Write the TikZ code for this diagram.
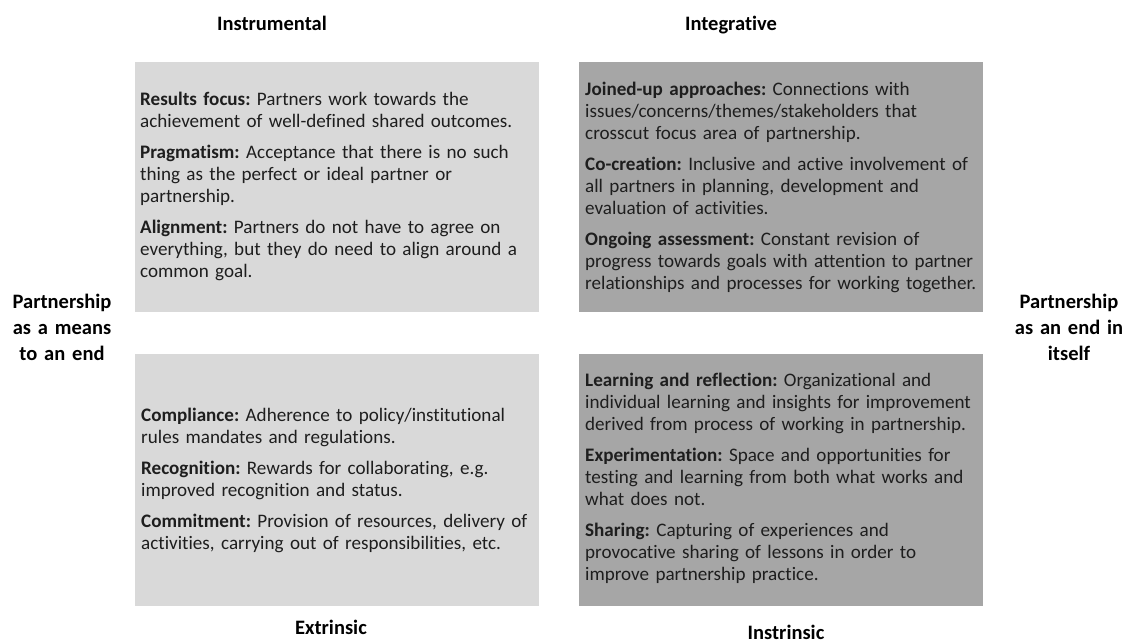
\documentclass[tikz,border=0pt]{standalone}
\usepackage{fontspec}
\setmainfont[Ligatures=NoCommon]{Carlito}
\usepackage{xcolor}
\definecolor{boxlight}{HTML}{D9D9D9}
\definecolor{boxdark}{HTML}{A6A6A6}
\definecolor{bodytext}{HTML}{1E1E1E}
\newcommand{\term}[1]{\textbf{#1:}}
\frenchspacing

\begin{document}
\begin{tikzpicture}[x=1pt,y=-1pt,
    quad/.style={rectangle,inner sep=0pt,anchor=north west,minimum width=404pt},
    quad text/.style={anchor=base west,inner sep=0pt,text width=400pt,align=left,text=bodytext,
                      font=\fontsize{19.1}{22}\selectfont},
    axis label/.style={anchor=base,inner sep=0pt,font=\fontsize{20.5}{26}\selectfont\bfseries},
    side label/.style={axis label,text width=110pt,align=center}]
  \useasboundingbox (0,0) rectangle (1125,643);

  % the four quadrants
  \node[quad,fill=boxlight,minimum height=250pt] (TL) at (135,62) {};
  \node[quad,fill=boxdark,minimum height=250pt]  (TR) at (579,62) {};
  \node[quad,fill=boxlight,minimum height=252pt] (BL) at (135,354) {};
  \node[quad,fill=boxdark,minimum height=252pt]  (BR) at (579,354) {};

  % top left: instrumental
  \node[quad text] (TLtext) at (140,105) {\term{Results focus} Partners work towards the\\
    achievement of well-defined shared outcomes.\\[9pt]
    \term{Pragmatism} Acceptance that there is no such\\
    thing as the perfect or ideal partner or\\
    partnership.\\[9pt]
    \term{Alignment} Partners do not have to agree on\\
    everything, but they do need to align around a\\
    common goal.};

  % top right: integrative
  \node[quad text] (TRtext) at (585,95) {\term{Joined-up approaches} Connections with\\
    issues/concerns/themes/stakeholders that\\
    crosscut focus area of partnership.\\[9pt]
    \term{Co-creation} Inclusive and active involvement of\\
    all partners in planning, development and\\
    evaluation of activities.\\[9pt]
    \term{Ongoing assessment} Constant revision of\\
    progress towards goals with attention to partner\\
    relationships and processes for working together.};

  % bottom left: extrinsic
  \node[quad text] (BLtext) at (141,421) {\term{Compliance} Adherence to policy/institutional\\
    rules mandates and regulations.\\[9pt]
    \term{Recognition} Rewards for collaborating, e.g.\\
    improved recognition and status.\\[9pt]
    \term{Commitment} Provision of resources, delivery of\\
    activities, carrying out of responsibilities, etc.};

  % bottom right: intrinsic
  \node[quad text] (BRtext) at (585,386) {\term{Learning and reflection} Organizational and\\
    individual learning and insights for improvement\\
    derived from process of working in partnership.\\[9pt]
    \term{Experimentation} Space and opportunities for\\
    testing and learning from both what works and\\
    what does not.\\[9pt]
    \term{Sharing} Capturing of experiences and\\
    provocative sharing of lessons in order to\\
    improve partnership practice.};

  % axis labels
  \node[axis label] (instr) at (272,30) {Instrumental};
  \node[axis label] (integ) at (731,30) {Integrative};
  \node[axis label] (extr)  at (331,634) {Extrinsic};
  \node[axis label] (intr)  at (786,639) {Instrinsic};
  \node[side label] (means) at (62,308) {Partnership\\ as a means\\ to an end};
  \node[side label] (itself) at (1069,308) {Partnership\\ as an end in\\ itself};
\end{tikzpicture}
\end{document}
